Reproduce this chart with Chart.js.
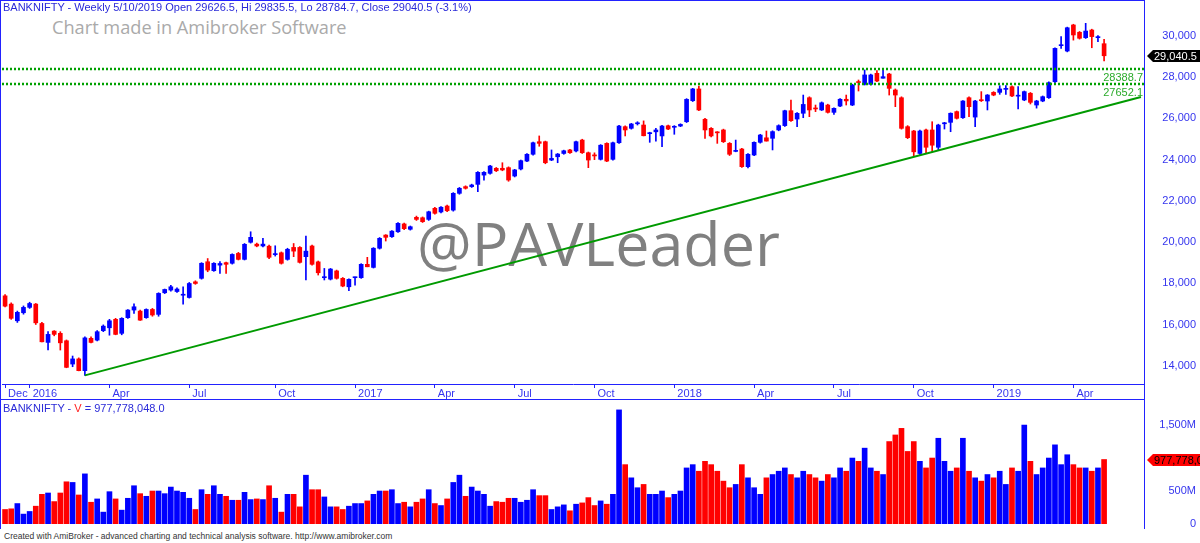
<!DOCTYPE html>
<html>
<head>
<meta charset="utf-8">
<script src="https://cdn.jsdelivr.net/npm/chart.js@4.4.1/dist/chart.umd.min.js"></script>
<style>
html, body { margin: 0; padding: 0; background: #fff; }
#wrap { position: relative; width: 1200px; height: 543px; overflow: hidden; font-family: "Liberation Sans", Arial, sans-serif; }
canvas { position: absolute; left: 0; z-index: 2; }
#price { top: 0; }
#vol { top: 399px; }
.t { position: absolute; white-space: nowrap; line-height: 1; }
.ln { position: absolute; background: #2222ff; z-index: 3; }
#title { left: 3px; top: 2px; font-size: 11px; color: #2a2ad8; z-index: 3; }
#made { left: 52px; top: 18px; font-family: "Open Sans"; font-size: 18.2px; color: #aaaaaa; z-index: 1; }
#wm { left: 417px; top: 212px; font-family: "Open Sans"; font-size: 61px; color: #808080; z-index: 1; }
#vhead { left: 3px; top: 403px; font-size: 11px; color: #2a2ad8; z-index: 3; }
#foot { left: 4px; top: 532px; font-size: 8.5px; color: #333; }
</style>
</head>
<body>
<div id="wrap">
  <div class="t" id="made">Chart made in Amibroker Software</div>
  <div class="t" id="wm">@PAVLeader</div>
  <canvas id="price" width="1200" height="399"></canvas>
  <canvas id="vol" width="1200" height="130"></canvas>
  <div class="t" id="title">BANKNIFTY - Weekly 5/10/2019 Open 29626.5, Hi 29835.5, Lo 28784.7, Close 29040.5 (-3.1%)</div>
  <div class="t" id="vhead">BANKNIFTY - <span style="color:#ff2020">V</span> = 977,778,048.0</div>
  <div class="t" id="foot">Created with AmiBroker - advanced charting and technical analysis software. http://www.amibroker.com</div>
  <div class="ln" style="left:0;top:0;width:1px;height:529px"></div>
  <div class="ln" style="left:0;top:0;width:1144px;height:1px"></div>
  <div class="ln" style="left:0;top:399px;width:1144px;height:1px"></div>
  <div class="ln" style="left:1144px;top:0;width:1px;height:529px"></div>
</div>
<script>
'use strict';

// weekly bars, first week ends 4 Dec 2015, last ends 10 May 2019
const open = [
  17390,16990,16180,16570,16830,16990,16050,15130,15680,15570,
  15210,14080,14330,13760,15330,15240,15700,15840,16250,15570,
  16330,16700,16650,16330,16730,16490,17540,17670,17600,17420,
  17310,18070,18240,19045,18610,18880,19000,18970,19450,19160,
  19990,19900,19810,19800,19390,19480,19160,19740,19740,19290,
  19810,19040,18270,18200,18600,18240,17830,18270,18270,18920,
  18770,19700,20340,20260,20500,20880,20620,21200,21180,21100,
  21640,21460,21750,21550,22365,22690,22690,22800,23250,23335,
  23580,23580,23610,23205,23545,23930,24260,24870,24870,23980,
  24140,24300,24470,24420,24950,24335,24230,24015,24790,24015,
  24820,25600,25520,25740,25680,25260,25350,25150,25645,25570,
  25630,25840,26860,27430,25960,25520,25325,25440,24790,24400,
  24515,23660,24225,24840,25060,25035,25440,25650,26375,25970,
  26250,27005,26480,26410,26650,26295,26600,26930,26650,27760,
  27655,27655,28190,27950,28155,27380,27005,25600,25390,24300,
  25440,25440,24600,25740,25810,26330,26035,27005,26065,26880,
  26845,27265,27265,27410,27540,27080,26895,27220,26650,26845,
  27005,27780,29530,29270,30535,30180,29920,30290,29920,29626.5
];
const high = [
  17450,17050,16650,16900,17080,17020,16100,15650,15700,15650,
  15250,14470,14380,15400,15400,15700,15980,16250,16300,16330,
  16720,17000,16700,16760,16780,17540,17720,17900,17780,17830,
  18040,18120,19000,19200,19000,19050,19030,19430,19500,19930,
  20500,19950,20180,19850,19820,19520,19700,19930,19780,20290,
  19850,19080,18720,18720,18640,18280,18220,18300,18950,19260,
  19730,20220,20360,20560,20950,20920,20780,21260,21220,21500,
  21680,21720,21790,22400,22650,22730,22810,23420,23420,23720,
  23620,23850,23650,23530,23980,24290,24850,25150,24900,24470,
  24300,24460,24500,24900,24990,24370,24330,24730,24820,24850,
  25660,25640,25760,25840,25880,25330,25520,25660,25680,25650,
  25740,26960,27460,27570,26000,25560,25360,25480,24830,24950,
  24550,24300,24870,25230,25390,25400,25690,26400,26890,26280,
  27135,27050,26650,26800,26690,26520,26960,27135,27660,27865,
  28350,28150,28320,28350,28190,27430,27050,25650,25420,25430,
  25480,25840,25720,25810,26270,26360,26870,27050,26880,27300,
  27160,27300,27590,27590,27580,27540,27330,27260,26880,27090,
  27770,29430,29970,30430,30570,30220,30615,30330,30015,29835.5
];
const low = [
  16850,16250,16100,16500,16780,16000,15150,14760,15450,14760,
  13900,13950,13750,13530,15100,15200,15650,15480,15500,15500,
  16290,16540,16200,16300,16400,16400,17500,17620,17560,16980,
  17280,17950,18200,18560,18580,18480,18480,18930,19130,19130,
  19950,19770,19760,19200,19320,18930,19120,19290,18980,18160,
  18880,18400,18160,18160,18200,17830,17640,17910,18240,18800,
  18740,19660,20050,20230,20470,20600,20580,21050,20950,21050,
  21350,21420,21480,21500,22320,22570,22650,22450,23000,23300,
  23420,23460,22950,23160,23500,23900,24220,24650,23800,23950,
  23850,24260,24300,24380,24300,23610,24000,23980,23900,23980,
  24790,25150,25480,25680,25150,24840,24900,24630,25450,25230,
  25600,25800,26820,26380,25030,25100,24790,24830,24200,24380,
  23620,23600,24190,24800,24900,24470,25400,25610,25850,25600,
  26035,26085,26330,26380,26260,26200,26570,26650,26620,27330,
  27620,27620,27780,27950,27135,26570,25480,25020,24150,24250,
  24300,24380,24460,25485,25355,25970,26000,26085,25600,26820,
  26410,27100,27170,27170,27050,26460,26860,26700,26500,26810,
  26970,27740,29400,29230,29800,29850,29880,29430,29725,28784.7
];
const close = [
  16890,16300,16590,16830,17020,16080,15160,15520,15520,15110,
  13920,14330,13760,15350,15130,15650,15920,16180,15520,16300,
  16700,16860,16210,16730,16460,17510,17700,17830,17720,17460,
  17990,17990,18970,18640,18970,18960,18920,19400,19160,19890,
  20230,19810,19900,19260,19440,18970,19650,19560,19015,19560,
  18920,18510,18320,18690,18240,17865,18190,18300,18920,18800,
  19700,20180,20230,20530,20910,20650,20745,21100,20990,21470,
  21395,21690,21520,22365,22610,22610,22770,23385,23385,23690,
  23460,23500,23010,23500,23950,24260,24820,24790,23850,24060,
  24270,24430,24335,24870,24335,23980,24180,24700,23930,24820,
  25630,25440,25730,25770,25160,25300,25440,25630,25485,25600,
  25710,26925,27430,26410,25440,25150,25300,24870,24260,24430,
  23660,24260,24840,25195,24900,25360,25650,26375,25890,26250,
  26680,26410,26460,26760,26295,26490,26930,26850,27620,27740,
  28110,28110,27815,28025,27460,27135,25520,25065,24380,25390,
  24600,24700,25680,25780,26250,26005,26845,26570,26845,26860,
  27135,27135,27430,27440,27090,27100,27300,26780,26845,27055,
  27735,29400,29560,30400,30050,29890,30240,29970,29950,29040.5
];
// volume, millions of units
const volume = [
  220,230,310,150,190,270,450,470,340,470,
  640,630,440,760,330,380,180,490,380,210,
  390,580,460,420,500,500,460,560,500,480,
  390,220,520,450,580,450,420,360,360,480,
  370,380,370,580,390,180,450,450,260,740,
  520,520,410,260,260,220,270,310,310,350,
  450,500,500,520,310,330,260,330,380,520,
  310,280,380,630,740,420,560,500,450,270,
  340,330,390,390,330,360,520,430,430,220,
  260,290,200,300,320,400,280,350,300,450,
  1730,900,700,550,600,450,450,500,400,450,
  500,850,900,800,950,900,800,650,550,600,
  900,700,550,450,700,750,800,850,750,700,
  800,750,700,650,750,700,850,800,1000,950,
  1150,850,800,750,1250,1350,1450,1100,1250,950,
  850,1000,1300,950,800,850,1300,800,700,650,
  750,700,800,600,850,800,1500,950,750,850,
  1000,1200,900,1050,900,850,850,800,850,977.778
];

const blankBars = 6;
const tickIdx  = [0, 4, 17, 30, 44, 57, 70, 83, 96, 109, 122, 135, 148, 161, 174];
const tickText = ['Dec', '2016', 'Apr', 'Jul', 'Oct', '2017', 'Apr', 'Jul', 'Oct', '2018', 'Apr', 'Jul', 'Oct', '2019', 'Apr'];
const priceTicks = [14000, 16000, 18000, 20000, 22000, 24000, 26000, 28000, 30000];
const volTicks   = [0, 500, 1500];
const levels     = [28388.7, 27652.1];
const trendIdx   = [13, 185];
const trendVal   = [13530, 27040];

const AX   = '#2222ff';
const TXT  = '#3535ee';
const UP   = '#0000ff';
const DOWN = '#ff0000';
const FONT = { family: '"Liberation Sans", Arial, sans-serif', size: 11 };

const nBars = open.length;
const cats = [];
for (let i = 0; i < nBars + blankBars; i++) {
  const d = new Date(Date.UTC(2015, 11, 4 + 7 * i));
  cats.push(d.toISOString().slice(0, 10));
}
const colr = open.map((o, i) => close[i] >= o ? UP : DOWN);
const trendData = cats.map((_, i) => {
  const k = trendIdx.indexOf(i);
  return k < 0 ? null : trendVal[k];
});

// fixed axis sizes, no auto padding from tick labels
const fitY = s => { s.width = 52; s.paddingTop = 0; s.paddingBottom = 0; };
const fitX = s => { s.height = 15; s.paddingLeft = 0; s.paddingRight = 0; };

function drawTag(ctx, x, py, bg, fg, text) {
  ctx.save();
  ctx.fillStyle = bg;
  ctx.beginPath();
  ctx.moveTo(x + 3, py);
  ctx.lineTo(x + 9, py - 6);
  ctx.lineTo(1200, py - 6);
  ctx.lineTo(1200, py + 6);
  ctx.lineTo(x + 9, py + 6);
  ctx.closePath();
  ctx.fill();
  ctx.fillStyle = fg;
  ctx.font = '11px "Liberation Sans", Arial';
  ctx.textBaseline = 'middle';
  ctx.fillText(text, x + 10, py + 0.5);
  ctx.restore();
}

const priceExtras = {
  id: 'priceExtras',
  afterDatasetsDraw(chart) {
    const { ctx, chartArea: a, scales: { y } } = chart;
    ctx.save();
    levels.forEach(v => {
      const py = Math.round(y.getPixelForValue(v));
      ctx.strokeStyle = '#00a000';
      ctx.lineWidth = 2.5;
      ctx.setLineDash([2, 2]);
      ctx.beginPath();
      ctx.moveTo(a.left, py);
      ctx.lineTo(a.right, py);
      ctx.stroke();
      ctx.setLineDash([]);
      ctx.fillStyle = '#2aaa2a';
      ctx.font = '11px "Liberation Sans", Arial';
      ctx.textAlign = 'right';
      ctx.textBaseline = 'top';
      ctx.fillText(v.toFixed(1), a.right - 1, py + 3);
    });
    ctx.restore();
  },
  afterDraw(chart) {
    const { ctx, chartArea: a, scales: { y } } = chart;
    const last = close[nBars - 1];
    drawTag(ctx, a.right, Math.round(y.getPixelForValue(last)), '#000', '#fff',
      last.toLocaleString('en-US', { minimumFractionDigits: 1 }));
  }
};

new Chart(document.getElementById('price'), {
  type: 'bar',
  data: {
    labels: cats,
    datasets: [
      { type: 'bar', data: low.map((l, i) => [l, high[i]]), backgroundColor: colr, barThickness: 1, grouped: false, order: 2 },
      { type: 'bar', data: open.map((o, i) => [Math.min(o, close[i]), Math.max(o, close[i])]), backgroundColor: colr, barThickness: 4, minBarLength: 1, grouped: false, order: 1 },
      { type: 'line', data: trendData, borderColor: '#009a00', borderWidth: 2, pointRadius: 0, spanGaps: true, order: 0 }
    ]
  },
  options: {
    responsive: false,
    animation: false,
    devicePixelRatio: 1,
    layout: { padding: { left: 2, right: 4, top: 0, bottom: 0 } },
    plugins: { legend: { display: false }, tooltip: { enabled: false } },
    scales: {
      x: {
        offset: true,
        afterFit: fitX,
        grid: { drawOnChartArea: false, offset: false, tickLength: 4, color: c => tickIdx.includes(c.index) ? AX : 'rgba(0,0,0,0)' },
        border: { color: AX },
        ticks: {
          autoSkip: false, maxRotation: 0, minRotation: 0, align: 'start', padding: -1, labelOffset: 3,
          color: TXT, font: FONT,
          callback: (v, i) => { const k = tickIdx.indexOf(i); return k < 0 ? '' : tickText[k]; }
        }
      },
      y: {
        position: 'right',
        min: 13112, max: 31747,
        afterBuildTicks: s => { s.ticks = priceTicks.map(v => ({ value: v })); },
        afterFit: fitY,
        grid: { display: false },
        border: { color: AX },
        ticks: { crossAlign: 'far', padding: 17, color: TXT, font: FONT, callback: v => v.toLocaleString('en-US') }
      }
    }
  },
  plugins: [priceExtras]
});

const volExtras = {
  id: 'volExtras',
  afterDraw(chart) {
    const { ctx, chartArea: a, scales: { y } } = chart;
    drawTag(ctx, a.right, Math.round(y.getPixelForValue(volume[nBars - 1])), '#ff0000', '#000', '977,778,048.0');
  }
};

new Chart(document.getElementById('vol'), {
  type: 'bar',
  data: {
    labels: cats,
    datasets: [{ data: volume, backgroundColor: colr, barThickness: 5, grouped: false }]
  },
  options: {
    responsive: false,
    animation: false,
    devicePixelRatio: 1,
    layout: { padding: { left: 2, right: 4, top: 1, bottom: 5 } },
    plugins: { legend: { display: false }, tooltip: { enabled: false } },
    scales: {
      x: { display: false, offset: true },
      y: {
        position: 'right',
        min: 0, max: 1880,
        afterBuildTicks: s => { s.ticks = volTicks.map(v => ({ value: v })); },
        afterFit: fitY,
        grid: { display: false },
        border: { color: AX },
        ticks: { crossAlign: 'far', padding: 17, color: TXT, font: FONT, callback: v => v === 0 ? '0' : v.toLocaleString('en-US') + 'M' }
      }
    }
  },
  plugins: [volExtras]
});
</script>
</body>
</html>
